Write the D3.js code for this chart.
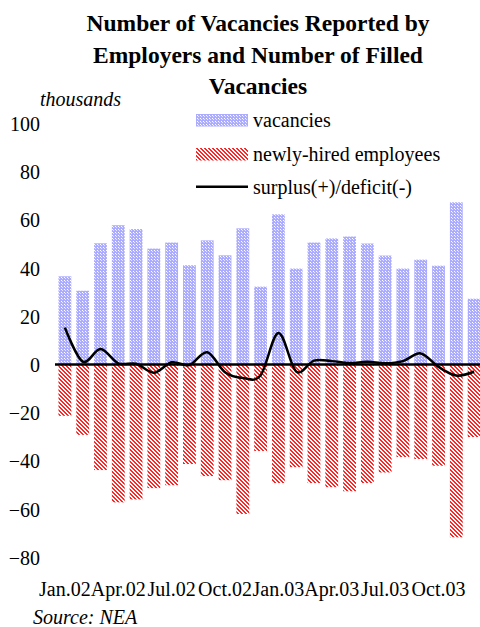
<!DOCTYPE html>
<html>
<head>
<meta charset="utf-8">
<script src="https://d3js.org/d3.v7.min.js"></script>
<style>
  body { margin: 0; background: #fff; }
  svg { display: block; }
  svg text { font-family: "Liberation Serif", "Times New Roman", serif; }
</style>
</head>
<body>
<div id="chart"></div>
<script>
// data (thousands)
var months = ["Jan.02","Feb.02","Mar.02","Apr.02","May.02","Jun.02","Jul.02","Aug.02","Sep.02","Oct.02","Nov.02","Dec.02",
              "Jan.03","Feb.03","Mar.03","Apr.03","May.03","Jun.03","Jul.03","Aug.03","Sep.03","Oct.03","Nov.03","Dec.03"];
var vacancies = [36.6, 30.6, 50.3, 57.8, 56.2, 48.1, 50.6, 41.2, 51.5, 45.3, 56.5, 32.3,
                 62.3, 39.8, 50.6, 52.3, 53.1, 50.2, 45.2, 39.8, 43.5, 41.0, 67.3, 27.3];
var hired = [-21.3, -29.2, -43.8, -57.2, -56.0, -51.3, -50.1, -41.3, -46.3, -48.0, -62.0, -35.9,
             -49.2, -42.6, -49.2, -50.9, -52.6, -49.2, -44.8, -38.4, -39.2, -42.0, -71.7, -30.1];
var surplus = [15.3, 1.2, 6.4, 0.5, 0.3, -3.4, 0.9, -0.2, 5.1, -3.2, -5.6, -4.5,
               13.1, -2.9, 1.6, 1.4, 0.6, 1.1, 0.5, 1.4, 4.6, -1.0, -4.6, -2.9];
var tickLabels = ["Jan.02","Apr.02","Jul.02","Oct.02","Jan.03","Apr.03","Jul.03","Oct.03"];
var yTicks = [100, 80, 60, 40, 20, 0, -20, -40, -60, -80];
var seriesNames = ["vacancies", "newly-hired employees", "surplus(+)/deficit(-)"];

var W = 480, H = 627;

var svg = d3.select("#chart")
    .append("svg")
    .attr("width", W)
    .attr("height", H);

// fill patterns
var defs = svg.append("defs");
var pBlue = defs.append("pattern")
    .attr("id", "blueGrid")
    .attr("patternUnits", "userSpaceOnUse")
    .attr("width", 3).attr("height", 3);
pBlue.append("rect").attr("width", 3).attr("height", 3).attr("fill", "#acacff");
pBlue.append("rect").attr("x", 1).attr("y", 1).attr("width", 1).attr("height", 1).attr("fill", "#ffffff");
pBlue.append("rect").attr("x", 2).attr("y", 2).attr("width", 1).attr("height", 1).attr("fill", "#e4e4ff");

var pRed = defs.append("pattern")
    .attr("id", "redHatch")
    .attr("patternUnits", "userSpaceOnUse")
    .attr("width", 4).attr("height", 4);
pRed.append("rect").attr("width", 4).attr("height", 4).attr("fill", "#ffffff");
for (var i = 0; i < 4; i++) {
    for (var j = 0; j < 4; j++) {
        if (((i - j) % 4 + 4) % 4 < 2) {
            pRed.append("rect").attr("x", i).attr("y", j).attr("width", 1).attr("height", 1).attr("fill", "#ff2626");
        }
    }
}

// title
var title = ["Number of Vacancies Reported by", "Employers and Number of Filled", "Vacancies"];
svg.append("g").selectAll("text")
    .data(title)
    .enter()
    .append("text")
    .attr("x", 258)
    .attr("y", function(d, i) { return 31 + i * 31.5; })
    .attr("text-anchor", "middle")
    .style("font-size", "23.5px")
    .style("font-weight", "bold")
    .text(function(d) { return d; });

svg.append("text")
    .attr("x", 40)
    .attr("y", 106)
    .style("font-size", "20px")
    .style("font-style", "italic")
    .text("thousands");

// scales
var x = d3.scaleBand()
    .domain(months)
    .range([56, 483])
    .paddingInner(0.28)
    .paddingOuter(0.14);

var y = d3.scaleLinear()
    .domain([-80, 100])
    .range([557.3, 123.5]);

// Y labels
var yAxis = svg.append("g")
    .attr("transform", "translate(40,0)")
    .call(d3.axisLeft(y).tickValues(yTicks).tickSize(0).tickPadding(0));
yAxis.select(".domain").remove();
yAxis.selectAll("text")
    .attr("dy", "0.35em")
    .style("font-size", "20px")
    .attr("fill", "#000");

// X labels
var xAxis = svg.append("g")
    .attr("transform", "translate(0,582)")
    .call(d3.axisBottom(x).tickValues(tickLabels).tickSize(0).tickPadding(0));
xAxis.select(".domain").remove();
xAxis.selectAll("text")
    .style("font-size", "20px")
    .attr("fill", "#000");

// Bars
svg.append("g")
    .selectAll("rect")
    .data(vacancies)
    .enter()
    .append("rect")
    .attr("x", function(d, i) { return x(months[i]); })
    .attr("y", function(d) { return y(d); })
    .attr("width", x.bandwidth())
    .attr("height", function(d) { return y(0) - y(d); })
    .attr("fill", "url(#blueGrid)");

svg.append("g")
    .selectAll("rect")
    .data(hired)
    .enter()
    .append("rect")
    .attr("x", function(d, i) { return x(months[i]); })
    .attr("y", y(0))
    .attr("width", x.bandwidth())
    .attr("height", function(d) { return y(d) - y(0); })
    .attr("fill", "url(#redHatch)");

// zero line
svg.append("line")
    .attr("x1", x.range()[0] - 1)
    .attr("x2", x.range()[1])
    .attr("y1", y(0))
    .attr("y2", y(0))
    .attr("stroke", "#000")
    .attr("stroke-width", 2.5);

// surplus line
svg.append("path")
    .datum(surplus)
    .attr("fill", "none")
    .attr("stroke", "#000")
    .attr("stroke-width", 2.5)
    .attr("d", d3.line()
        .x(function(d, i) { return x(months[i]) + x.bandwidth() / 2; })
        .y(function(d) { return y(d); })
        .curve(d3.curveCardinal.tension(0))
    );

// legend
var legend = svg.append("g").attr("transform", "translate(196,0)");
legend.append("rect").attr("x", 0).attr("y", 114).attr("width", 52).attr("height", 12.5).attr("fill", "url(#blueGrid)");
legend.append("rect").attr("x", 0).attr("y", 148).attr("width", 52).attr("height", 12.5).attr("fill", "url(#redHatch)");
legend.append("line").attr("x1", 0).attr("x2", 52).attr("y1", 186.7).attr("y2", 186.7)
    .attr("stroke", "#000").attr("stroke-width", 2.5);
legend.selectAll("text")
    .data(seriesNames)
    .enter()
    .append("text")
    .attr("x", 57)
    .attr("y", function(d, i) { return 120 + i * 33.5; })
    .attr("dy", "0.35em")
    .style("font-size", "20px")
    .text(function(d) { return d; });

// source
svg.append("text")
    .attr("x", 33)
    .attr("y", 624)
    .style("font-size", "20px")
    .style("font-style", "italic")
    .text("Source: NEA");
</script>
</body>
</html>
